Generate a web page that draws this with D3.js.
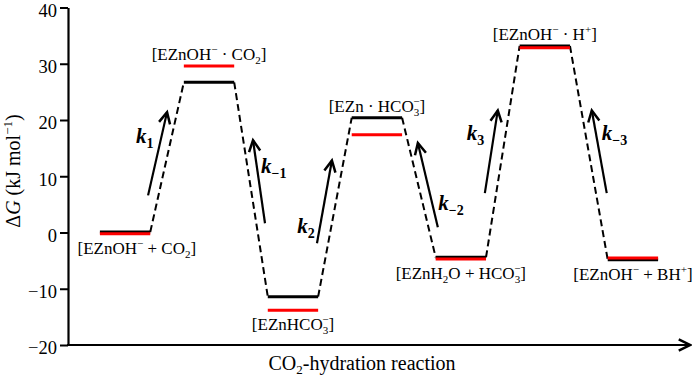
<!DOCTYPE html>
<html>
<head>
<meta charset="utf-8">
<script src="https://cdn.jsdelivr.net/npm/d3@7"></script>
<style>
body{margin:0;background:#fff}
svg{display:block}
svg text{font-family:"Liberation Serif","Times New Roman",serif !important}
</style>
</head>
<body>
<svg></svg>
<script>
// position of each state on the reaction coordinate
var statePos = [1, 2, 3, 4, 5, 6, 7.05];
// free energies (kJ/mol), black and red levels
var blackG = [0.1, 26.7, -11.4, 20.4, -4.4, 33.15, -4.85];
var redG   = [-0.2, 29.6, -13.8, 17.4, -4.7, 32.85, -4.55];
// labels: pieces of text, "b" = baseline, "sub", "sup", "subsup" (stacked)
var stateLabels = [
  [["[EZnOH","b"],["−","sup"],[" + CO","b"],["2","sub"],["]","b"]],
  [["[EZnOH","b"],["−","sup"],[" · CO","b"],["2","sub"],["]","b"]],
  [["[EZnHCO","b"],["3","subsup"],["]","b"]],
  [["[EZn · HCO","b"],["3","subsup"],["]","b"]],
  [["[EZnH","b"],["2","sub"],["O + HCO","b"],["3","subsup"],["]","b"]],
  [["[EZnOH","b"],["−","sup"],[" · H","b"],["+","sup"],["]","b"]],
  [["[EZnOH","b"],["−","sup"],[" + BH","b"],["+","sup"],["]","b"]]
];
var labelSide = ["below","above","below","above","below","above","below"];
var labelShift = [0.14, 0, 0, 0, 0, 0, 0];
var yTicks = [-20, -10, 0, 10, 20, 30, 40];

// rate constant arrows [x0, G0, x1, G1]
var kNames = ["1", "−1", "2", "−2", "3", "−3"];
var kArrows = [
  [1.274, 6.6, 1.5, 21.4],
  [2.667, 1.65, 2.524, 16.4],
  [3.286, -1.9, 3.464, 12.8],
  [4.726, 0.94, 4.488, 15.9],
  [5.286, 7.0, 5.44, 21.7],
  [6.738, 7.0, 6.56, 21.7]
];
var kLabelAt = [[1.13, 15.9], [2.62, 10.5], [3.05, -0.1], [4.73, 4.0], [5.07, 16.4], [6.68, 16.4]];

var screen = {width: 692, height: 378};
var margins = {left: 68, right: 2, top: 7.5, bottom: 33};
var halfW = 0.3;

var svg = d3.select("svg")
  .attr("width", screen.width)
  .attr("height", screen.height);

var xScale = d3.scaleLinear()
  .domain([0.32, 7.73])
  .range([margins.left, screen.width - margins.right]);

var yScale = d3.scaleLinear()
  .domain([-20, 40])
  .range([screen.height - margins.bottom, margins.top]);

var defs = svg.append("defs");
defs.append("marker")
  .attr("id", "head")
  .attr("markerUnits", "userSpaceOnUse")
  .attr("markerWidth", 20).attr("markerHeight", 20)
  .attr("viewBox", "-12 -8 16 16")
  .attr("refX", 0).attr("refY", 0)
  .attr("orient", "auto")
  .append("path")
  .attr("d", "M-9,-4.5L0,0L-9,4.5")
  .attr("fill", "none")
  .attr("stroke", "#000")
  .attr("stroke-width", 2);

// y axis
var yAxis = d3.axisLeft(yScale)
  .tickValues(yTicks)
  .tickSize(8)
  .tickSizeOuter(0)
  .tickPadding(3);

var gy = svg.append("g")
  .attr("transform", "translate(" + margins.left + ",0)")
  .call(yAxis);
gy.select(".domain").attr("stroke-width", 2.2);
gy.selectAll(".tick line").attr("stroke-width", 2);
gy.selectAll(".tick text")
  .attr("font-size", 18.5)
  .attr("dy", "0.48em")
  .attr("fill", "#000");

// x axis (arrow)
svg.append("line")
  .attr("x1", xScale.range()[0] - 1)
  .attr("x2", xScale.range()[1])
  .attr("y1", yScale(-20))
  .attr("y2", yScale(-20))
  .attr("stroke", "#000")
  .attr("stroke-width", 2)
  .attr("marker-end", "url(#head)");

// axis titles
var yt = svg.append("text")
  .attr("transform", "translate(20," + 171 + ") rotate(-90)")
  .attr("text-anchor", "middle")
  .attr("font-size", 20);
yt.append("tspan").text("Δ");
yt.append("tspan").attr("font-style", "italic").text("G");
yt.append("tspan").text(" (kJ mol");
yt.append("tspan").attr("font-size", 13).attr("dy", -8).text("−1");
yt.append("tspan").attr("dy", 8).text(")");

var xt = svg.append("text")
  .attr("x", 362).attr("y", 370)
  .attr("text-anchor", "middle")
  .attr("font-size", 20);
xt.append("tspan").text("CO");
xt.append("tspan").attr("font-size", 13).attr("dy", 4).text("2");
xt.append("tspan").attr("dy", -4).text("-hydration reaction");

// dashed connectors between states
var plot = svg.append("g");
for (var i = 0; i < statePos.length - 1; i++) {
  plot.append("line")
    .attr("x1", xScale(statePos[i] + halfW))
    .attr("y1", yScale(blackG[i]))
    .attr("x2", xScale(statePos[i + 1] - halfW))
    .attr("y2", yScale(blackG[i + 1]))
    .attr("stroke", "#000")
    .attr("stroke-width", 2)
    .attr("stroke-dasharray", "7,4");
}

// energy levels
plot.selectAll(".lvlBlack")
  .data(statePos)
  .enter()
  .append("line")
  .attr("class", "lvlBlack")
  .attr("x1", function(d) { return xScale(d - halfW); })
  .attr("x2", function(d) { return xScale(d + halfW); })
  .attr("y1", function(d, i) { return yScale(blackG[i]); })
  .attr("y2", function(d, i) { return yScale(blackG[i]); })
  .attr("stroke", "#000")
  .attr("stroke-width", 3);

plot.selectAll(".lvlRed")
  .data(statePos)
  .enter()
  .append("line")
  .attr("class", "lvlRed")
  .attr("x1", function(d) { return xScale(d - halfW); })
  .attr("x2", function(d) { return xScale(d + halfW); })
  .attr("y1", function(d, i) { return yScale(redG[i]); })
  .attr("y2", function(d, i) { return yScale(redG[i]); })
  .attr("stroke", "#ff0000")
  .attr("stroke-width", 3);

// state labels
stateLabels.forEach(function(parts, i) {
  var yb = labelSide[i] == "above"
    ? Math.min(yScale(blackG[i]), yScale(redG[i])) - 6
    : Math.max(yScale(blackG[i]), yScale(redG[i])) + 20;
  var t = svg.append("text")
    .attr("x", xScale(statePos[i] + labelShift[i]))
    .attr("y", yb)
    .attr("text-anchor", "middle")
    .attr("font-size", 17);
  var shift = 0;
  parts.forEach(function(p) {
    if (p[1] == "b") {
      t.append("tspan").attr("dy", -shift).text(p[0]);
      shift = 0;
    } else if (p[1] == "sub") {
      t.append("tspan").attr("font-size", 11).attr("dy", 4 - shift).text(p[0]);
      shift = 4;
    } else if (p[1] == "sup") {
      t.append("tspan").attr("font-size", 11).attr("dy", -7 - shift).text(p[0]);
      shift = -7;
    } else {
      t.append("tspan").attr("font-size", 11).attr("dy", 4 - shift).text(p[0]);
      t.append("tspan").attr("font-size", 11).attr("dx", -6).attr("dy", -11).text("−");
      shift = -7;
    }
  });
});

// rate constant arrows
plot.selectAll(".karrow")
  .data(kArrows)
  .enter()
  .append("line")
  .attr("class", "karrow")
  .attr("x1", function(d) { return xScale(d[0]); })
  .attr("y1", function(d) { return yScale(d[1]); })
  .attr("x2", function(d) { return xScale(d[2]); })
  .attr("y2", function(d) { return yScale(d[3]); })
  .attr("stroke", "#000")
  .attr("stroke-width", 2.2)
  .attr("marker-end", "url(#head)");

kLabelAt.forEach(function(p, i) {
  var t = svg.append("text")
    .attr("x", xScale(p[0]))
    .attr("y", yScale(p[1]))
    .attr("font-size", 21)
    .attr("font-weight", "bold");
  t.append("tspan").attr("font-style", "italic").text("k");
  t.append("tspan").attr("font-size", 14).attr("dy", 5).text(kNames[i]);
});
</script>
</body>
</html>
